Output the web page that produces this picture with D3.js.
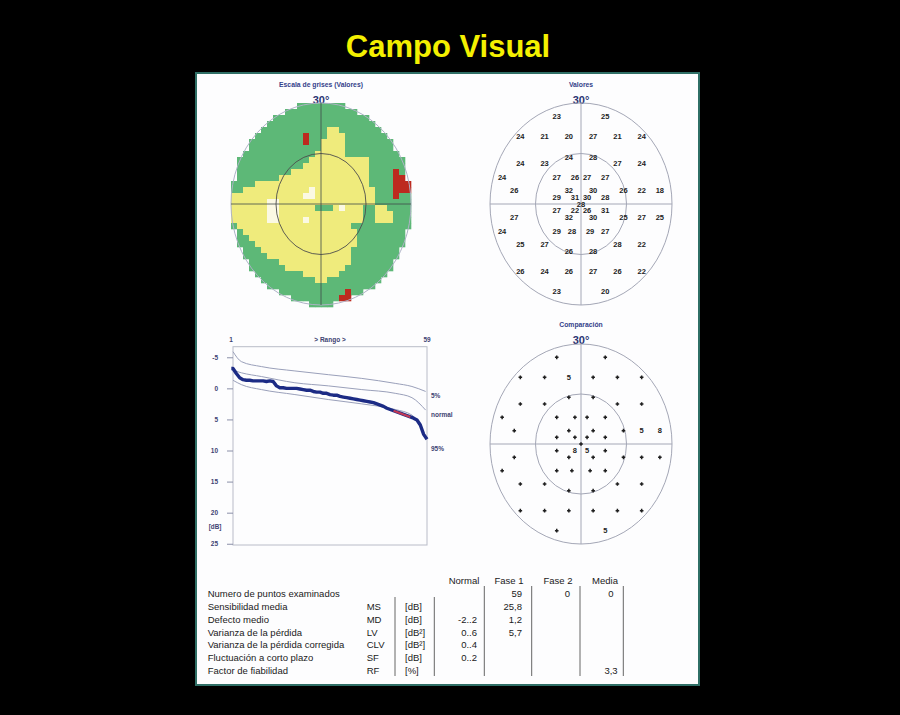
<!DOCTYPE html>
<html><head><meta charset="utf-8">
<script src="https://cdn.jsdelivr.net/npm/d3@7"></script>
<style>
body{margin:0;background:#000;}
svg{display:block;}
text{font-family:"Liberation Sans",Arial,Helvetica,sans-serif;}
</style>
</head><body>
<svg id="c" width="900" height="715"></svg>
<script>
// ---------------- DATA ----------------
const chartTitle = "Campo Visual";

// grey-scale map, run-length encoded rows (G green, Y yellow, R red, W pale)
const greyRows = [
 "30G","30G","30G","30G",
 "16G2Y12G",
 "12G1R3G3Y11G",
 "12G1R2G4Y11G",
 "15G4Y11G",
 "14G5Y11G",
 "13G10Y7G",
 "12G11Y7G",
 "10G13Y4G1R2G",
 "8G15Y4G2R1G",
 "4G19Y4G3R",
 "2G11Y1W10Y3G3R",
 "12Y2W10Y3G1R2G",
 "6Y2W16Y6G",
 "6Y2W6Y3G1Y1W3Y2G2Y4G",
 "6Y2W14Y2G3Y3G",
 "6Y2W4Y1W9Y2G3Y3G",
 "1G19Y10G",
 "2G19Y9G",
 "3G18Y9G",
 "4G17Y9G",
 "5G15Y10G",
 "6G14Y10G",
 "8G12Y10G",
 "9G10Y11G",
 "12G6Y12G",
 "14G2Y14G",
 "30G",
 "19G1R10G",
 "18G2R10G",
 "30G"
];
const greyColors = {G:"#5db877", Y:"#efeb7c", R:"#bd2a1f", W:"#fbf9e4"};

// test points (degrees), measured values and comparison symbols
const ptX = [-8,8, -20,-12,-4,4,12,20, -4,4, -20,-12,12,20, -26,-8,-2,2,8,
             -22,-4,4,14,20,26, -8,-2,2,8, 0, -8,-2,2,8, -22,-4,4,14,20,26,
             -26,-8,-3,3,8, -20,-12,12,20, -4,4, -20,-12,-4,4,12,20, -8,8];
const ptY = [26,26, 20,20,20,20,20,20, 14,14, 12,12,12,12, 8,8,8,8,8,
             4,4,4,4,4,4, 2,2,2,2, 0, -2,-2,-2,-2, -4,-4,-4,-4,-4,-4,
             -8,-8,-8,-8,-8, -12,-12,-12,-12, -14,-14, -20,-20,-20,-20,-20,-20, -26,-26];
const ptVal = [23,25, 24,21,20,27,21,24, 24,28, 24,23,27,24, 24,27,26,27,27,
               26,32,30,26,22,18, 29,31,30,28, 28, 27,22,26,31, 27,32,30,25,27,25,
               24,29,28,29,27, 25,27,28,22, 26,28, 26,24,26,27,26,22, 23,20];
const ptCmp = ["+","+", "+","+","5","+","+","+", "+","+", "+","+","+","+", "+","+","+","+","+",
               "+","+","+","+","5","8", "+","+","+","+", "+", "+","8","5","+", "+","+","+","+","+","+",
               "+","+","+","+","+", "+","+","+","+", "+","+", "+","+","+","+","+","+", "+","5"];

// cumulative defect curve (Bebie), rank 1..59, dB
const defectCurve = [-3.2,-2.4,-1.7,-1.4,-1.3,-1.3,-1.2,-1.2,-1.2,-1.2,-1.1,-1.2,-1.1,-0.4,-0.1,
  -0.1,0.0,0.0,0.0,0.0,0.1,0.2,0.3,0.3,0.5,0.6,0.6,0.8,0.8,1.0,1.1,1.1,1.3,1.4,1.5,1.6,1.7,1.8,
  1.9,2.0,2.1,2.2,2.3,2.5,2.7,2.9,3.2,3.4,3.6,3.8,4.0,4.2,4.4,4.6,4.8,5.1,5.9,7.4,8.2];
const outsideRanks = [49, 54];
const bandRanks  = [1, 3.5, 9.5, 19.5, 29.5, 39.5, 49.5, 54.5, 58.6];
const band5      = [-5.9,-4.3,-3.5,-2.8,-2.2,-1.6,-0.8,-0.3,0.5];
const bandNormal = [-2.9,-2.5,-1.9,-0.9,-0.4,0.2,0.8,1.5,3.5];
const band95     = [-1.3,-0.6,0.2,1.0,1.8,2.5,3.4,4.3,7.8];
const dbTicks = [-5,0,5,10,15,20,25];
const bandLabels = ["5%","normal","95%"];

// table
const rowLabels = ["Numero de puntos examinados","Sensibilidad media","Defecto medio","Varianza de la pérdida",
  "Varianza de la pérdida corregida","Fluctuación a corto plazo","Factor de fiabilidad"];
const rowAbbr  = ["","MS","MD","LV","CLV","SF","RF"];
const rowUnits = ["","[dB]","[dB]","[dB²]","[dB²]","[dB]","[%]"];
const colHeaders = ["Normal","Fase 1","Fase 2","Media"];
const colNormal = ["","","-2..2","0..6","0..4","0..2",""];
const colFase1  = ["59","25,8","1,2","5,7","","",""];
const colFase2  = ["0","","","","","",""];
const colMedia  = ["0","","","","","","3,3"];

// ---------------- DRAW ----------------
const svg = d3.select("#c");
const navy = "#34418a";

svg.append("rect").attr("width",900).attr("height",715).attr("fill","#000");
svg.append("text").attr("x",448).attr("y",57).attr("text-anchor","middle")
  .attr("font-size",31).attr("font-weight","bold").attr("fill","#f4f000").text(chartTitle);

svg.append("rect").attr("x",196).attr("y",73).attr("width",503).attr("height",612)
  .attr("fill","#fdfdfe").attr("stroke","#2f6f66").attr("stroke-width",2);

function mapLabels(cx, yTop, label){
  svg.append("text").attr("x",cx).attr("y",yTop).attr("text-anchor","middle")
    .attr("font-size",6.8).attr("font-weight","bold").attr("fill",navy).text(label);
  svg.append("text").attr("x",cx).attr("y",yTop+17).attr("text-anchor","middle")
    .attr("font-size",11).attr("font-weight","bold").attr("fill","#2a3372").text("30°");
}

// ---- grey-scale map
{
  const cx=321, cy=204, rx=90, ry=101;
  mapLabels(cx, 87, "Escala de grises (Valores)");
  const grid = greyRows.map(r => r.match(/\d+[A-Z]/g).flatMap(t => Array(+t.slice(0,-1)).fill(t.slice(-1))));
  const colS = d3.scaleBand().domain(d3.range(30)).range([231,411]);
  const rowS = d3.scaleBand().domain(d3.range(34)).range([103,307]);
  const cells = [];
  grid.forEach((row,ri)=>row.forEach((k,ci)=>{
    const x = colS(ci), y = rowS(ri), w = colS.bandwidth(), h = rowS.bandwidth();
    const mx = (x+w/2-cx)/rx, my = (y+h/2-cy)/ry;
    if (mx*mx+my*my <= 1.0) cells.push({x,y,w,h,k});
  }));
  svg.append("g").selectAll("rect").data(cells).join("rect")
    .attr("x",d=>d.x).attr("y",d=>d.y).attr("width",d=>d.w+0.3).attr("height",d=>d.h+0.3)
    .attr("fill",d=>greyColors[d.k]);
  svg.append("ellipse").attr("cx",cx).attr("cy",cy).attr("rx",rx).attr("ry",ry)
    .attr("fill","none").attr("stroke","#aeb2c6").attr("stroke-width",1);
  svg.append("ellipse").attr("cx",cx).attr("cy",cy).attr("rx",rx/2).attr("ry",ry/2)
    .attr("fill","none").attr("stroke","#4d4d4d").attr("stroke-width",0.9);
  svg.append("line").attr("x1",cx).attr("x2",cx).attr("y1",cy-ry).attr("y2",cy+ry).attr("stroke","#3f4a4a").attr("stroke-width",0.8);
  svg.append("line").attr("x1",cx-rx).attr("x2",cx+rx).attr("y1",cy).attr("y2",cy).attr("stroke","#3f4a4a").attr("stroke-width",0.8);
}

function polarFrame(cx, cy, rx, ry){
  const g = svg.append("g");
  g.append("ellipse").attr("cx",cx).attr("cy",cy).attr("rx",rx).attr("ry",ry)
    .attr("fill","none").attr("stroke","#a4a7b6").attr("stroke-width",1);
  g.append("ellipse").attr("cx",cx).attr("cy",cy).attr("rx",rx/2).attr("ry",ry/2)
    .attr("fill","none").attr("stroke","#a4a7b6").attr("stroke-width",1);
  g.append("line").attr("x1",cx).attr("x2",cx).attr("y1",cy-ry).attr("y2",cy+ry).attr("stroke","#a4a7b6");
  g.append("line").attr("x1",cx-rx).attr("x2",cx+rx).attr("y1",cy).attr("y2",cy).attr("stroke","#a4a7b6");
  return {x:d3.scaleLinear([-30,30],[cx-rx,cx+rx]), y:d3.scaleLinear([-30,30],[cy+ry,cy-ry])};
}
const pts = ptX.map((x,i)=>({x, y:ptY[i], v:ptVal[i], c:ptCmp[i]}));

// ---- values map
{
  mapLabels(581, 87, "Valores");
  const s = polarFrame(581, 204, 91, 101);
  svg.append("g").selectAll("text").data(pts).join("text")
    .attr("x",d=>s.x(d.x)).attr("y",d=>s.y(d.y)).attr("dy","0.36em").attr("text-anchor","middle")
    .attr("font-size",7.5).attr("font-weight","bold").attr("fill","#222").text(d=>d.v);
}

// ---- comparison map
{
  mapLabels(581, 327, "Comparación");
  const s = polarFrame(581, 444, 91, 100);
  const g = svg.append("g");
  g.selectAll("text").data(pts.filter(d=>d.c!=="+")).join("text")
    .attr("x",d=>s.x(d.x)).attr("y",d=>s.y(d.y)).attr("dy","0.36em").attr("text-anchor","middle")
    .attr("font-size",7.5).attr("font-weight","bold").attr("fill","#222").text(d=>d.c);
  g.selectAll("path").data(pts.filter(d=>d.c==="+")).join("path")
    .attr("d",d=>{const x=s.x(d.x), y=s.y(d.y); return `M${x-1.8},${y}H${x+1.8}M${x},${y-1.8}V${y+1.8}`;})
    .attr("stroke","#1e1e1e").attr("stroke-width",1.5);
}

// ---- cumulative defect curve
{
  const x = d3.scaleLinear([1,59],[233,427]);
  const y = d3.scaleLinear([-6.7,25.2],[346.7,545]);
  const g = svg.append("g");
  g.append("rect").attr("x",233).attr("y",346.7).attr("width",194).attr("height",198.3)
    .attr("fill","none").attr("stroke","#b9bcc8").attr("stroke-width",1);
  const ax = g.append("g").attr("transform","translate(233,0)")
    .call(d3.axisLeft(y).tickValues(dbTicks).tickFormat(d=>String(d)).tickSize(6).tickPadding(9));
  ax.select(".domain").remove();
  ax.selectAll(".tick line").attr("stroke","#8a8fa8");
  ax.selectAll(".tick text").attr("font-size",6.5).attr("font-weight","bold").attr("fill","#3d4372")
    .attr("font-family","Liberation Sans, Arial, sans-serif");
  g.append("text").attr("x",215).attr("y",529).attr("text-anchor","middle").attr("font-size",6.3)
    .attr("font-weight","bold").attr("fill","#3d4372").text("[dB]");
  const topT = [[1,"1"],[30,"> Rango >"],[59,"59"]];
  g.selectAll(".tt").data(topT).join("text").attr("x",d=>x(d[0])-(d[0]===1?2:0)).attr("y",341.5)
    .attr("text-anchor","middle").attr("font-size",6.5).attr("font-weight","bold").attr("fill","#3d4372").text(d=>d[1]);
  const line = d3.line().x(d=>x(d[0])).y(d=>y(d[1])).curve(d3.curveMonotoneX);
  [band5, bandNormal, band95].forEach(b=>{
    g.append("path").attr("d", line(bandRanks.map((r,i)=>[r,b[i]])))
      .attr("fill","none").attr("stroke","#9aa0ba").attr("stroke-width",1);
  });
  const lab = [[band5,395.7],[bandNormal,415],[band95,448.3]];
  g.selectAll(".bl").data(bandLabels).join("text").attr("x",431).attr("y",(d,i)=>lab[i][1]).attr("dy","0.35em")
    .attr("font-size",6.5).attr("font-weight","bold").attr("fill","#3d4372").text(d=>d);
  const pl = d3.line().x(d=>x(d[0])).y(d=>y(d[1]));
  const pd = defectCurve.map((v,i)=>[i+1,v]);
  g.append("path").attr("d",pl([[0.5,pd[0][1]],...pd])).attr("fill","none").attr("stroke","#1c2b85")
    .attr("stroke-width",3.4).attr("stroke-linejoin","round");
  g.append("path").attr("d",pl(pd.filter(d=>d[0]>=outsideRanks[0]&&d[0]<=outsideRanks[1])))
    .attr("fill","none").attr("stroke","#c23a55").attr("stroke-width",2.2);
}

// ---- table
{
  const g = svg.append("g").attr("font-size",9.5).attr("fill","#1a1a1a");
  const ry = d3.scaleLinear([0,6],[596.8,674.3]);
  const rows = d3.range(7);
  g.selectAll(".lab").data(rows).join("text").attr("x",207.7).attr("y",ry).text(i=>rowLabels[i]);
  g.selectAll(".ab").data(rows).join("text").attr("x",366.7).attr("y",ry).text(i=>rowAbbr[i]);
  g.selectAll(".un").data(rows).join("text").attr("x",405).attr("y",ry).text(i=>rowUnits[i]);
  const colDefs = [[colNormal,477,"end"],[colFase1,522,"end"],[colFase2,570,"end"],[colMedia,611,"middle"]];
  const headX = [464,509,558,605];
  g.selectAll(".hd").data(colHeaders).join("text").attr("x",(d,i)=>headX[i]).attr("y",583.5)
    .attr("text-anchor","middle").text(d=>d);
  colDefs.forEach(([col,xx,anc])=>{
    g.append("g").selectAll("text").data(rows).join("text").attr("x",xx).attr("y",ry)
      .attr("text-anchor",anc).text(i=>col[i]);
  });
  const vl = [[395,597],[434.3,597],[484.3,586],[531.7,586],[580,586],[623.3,586]];
  svg.append("g").selectAll("line").data(vl).join("line").attr("x1",d=>d[0]).attr("x2",d=>d[0])
    .attr("y1",d=>d[1]).attr("y2",676).attr("stroke","#555").attr("stroke-width",0.9);
}
</script>
</body></html>
